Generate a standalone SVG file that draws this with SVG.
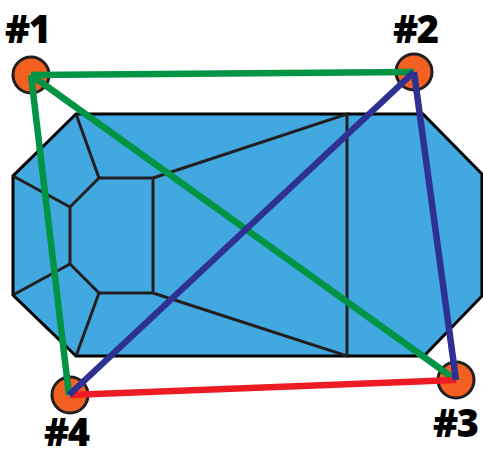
<svg xmlns="http://www.w3.org/2000/svg" width="483" height="450" viewBox="0 0 483 450">
<style>
.body{fill:#42a9e0;stroke:#000;stroke-width:3;stroke-linejoin:miter}
.edge{fill:none;stroke:#231f20;stroke-width:3;stroke-linejoin:miter}
.pin{fill:#f26122;stroke:#231f20;stroke-width:3}
.lab{font-family:"Open Sans","Liberation Sans",sans-serif;font-weight:800;font-size:38px;letter-spacing:-1.5px;fill:#000}
.g{stroke:#009444}.b{stroke:#2e3192}.r{stroke:#ed1c24}
#connectors line{stroke-width:6.5;fill:none}
</style>
<rect width="483" height="450" fill="#fff"/>
<g id="body">
<polygon class="body" points="76,114 423,114 482,174 482,296 424,356 76,356 13,295 13,176"/>
<path class="edge" d="M99,178H153V293H99L70,264V207Z"/>
<path class="edge" d="M13,176L70,207M13,295L70,264M76,114L99,178M76,356L99,293M153,178L347,114V356L153,293"/>
</g>
<g id="node1"><circle class="pin" cx="31" cy="75" r="18"/><text class="lab" x="5" y="43">#1</text></g>
<g id="node2"><circle class="pin" cx="414" cy="72" r="18"/><text class="lab" x="393" y="43">#2</text></g>
<g id="node3"><circle class="pin" cx="456" cy="380" r="18"/><text class="lab" x="433" y="437">#3</text></g>
<g id="node4"><circle class="pin" cx="70" cy="395" r="18"/><text class="lab" x="44" y="446">#4</text></g>
<g id="connectors">
<line class="g" x1="31" y1="75" x2="414" y2="72"/>
<line class="g" x1="31" y1="75" x2="69" y2="395"/>
<line class="g" x1="31" y1="75" x2="456" y2="380"/>
<line class="r" x1="70" y1="395" x2="456" y2="380"/>
<line class="b" x1="414" y1="72" x2="69" y2="395"/>
<line class="b" x1="414" y1="72" x2="456" y2="380"/>
</g>
</svg>
